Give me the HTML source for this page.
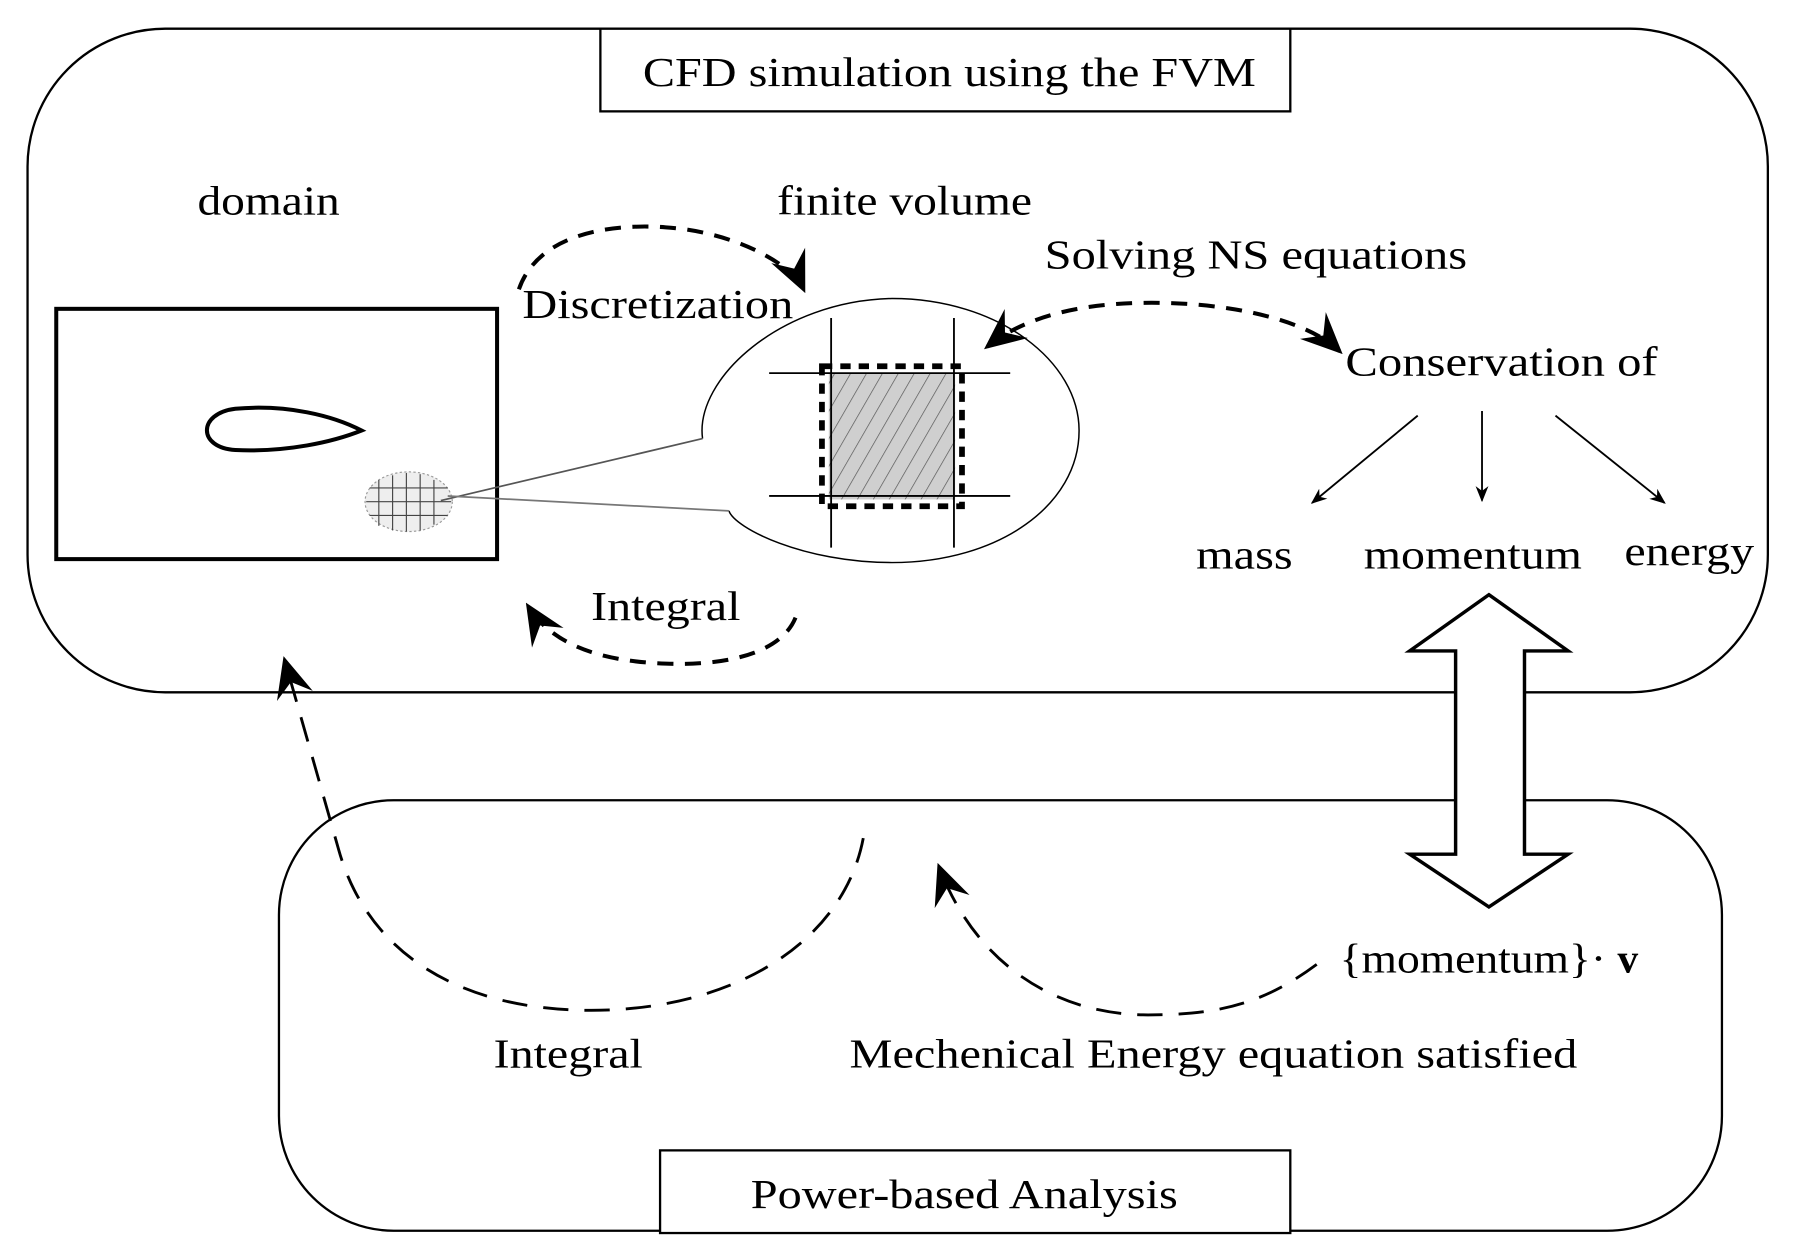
<!DOCTYPE html>
<html><head><style>html,body{margin:0;padding:0;background:#fff}svg{display:block}</style></head><body>
<svg width="1800" height="1256" viewBox="0 0 1568 1094" preserveAspectRatio="none" xmlns="http://www.w3.org/2000/svg" font-family="Liberation Serif, serif" font-size="36" fill="#000">
<defs>
<marker id="ah" viewBox="0 0 20 20" refX="18" refY="10" markerWidth="14" markerHeight="14" markerUnits="userSpaceOnUse" orient="auto"><path d="M0,2 L20,10 L0,18 L6,10Z" fill="#000"/></marker>
<marker id="ab" viewBox="0 0 20 20" refX="18" refY="10" markerWidth="36" markerHeight="36" markerUnits="userSpaceOnUse" orient="auto"><path d="M0,1 L20,10 L0,19 L7,10Z" fill="#000"/></marker>
<marker id="abs" viewBox="0 0 20 20" refX="2" refY="10" markerWidth="36" markerHeight="36" markerUnits="userSpaceOnUse" orient="auto"><path d="M20,1 L0,10 L20,19 L13,10Z" fill="#000"/></marker>
<pattern id="hatch" width="12" height="12" patternUnits="userSpaceOnUse" patternTransform="rotate(30)"><rect width="12" height="12" fill="#cfcfcf"/><line x1="0" y1="0" x2="0" y2="12" stroke="#555" stroke-width="1.2"/></pattern>
</defs>
<rect x="24" y="25" width="1516" height="578" rx="120" ry="120" fill="none" stroke="#000" stroke-width="2"/>
<rect x="523" y="25" width="601" height="72" fill="#fff" stroke="#000" stroke-width="2"/>
<text x="560" y="75" textLength="534" lengthAdjust="spacingAndGlyphs">CFD simulation using the FVM</text>
<text x="172" y="187" textLength="124" lengthAdjust="spacingAndGlyphs">domain</text>
<text x="677" y="187" textLength="222" lengthAdjust="spacingAndGlyphs">finite volume</text>
<text x="910" y="234" textLength="368" lengthAdjust="spacingAndGlyphs">Solving NS equations</text>
<text x="455" y="277" textLength="236" lengthAdjust="spacingAndGlyphs">Discretization</text>
<rect x="49" y="269" width="384" height="218" fill="none" stroke="#000" stroke-width="3.5"/>
<path d="M315,375 C290,362 250,352 205,356 C172,360 172,390 205,392 C250,394 290,385 315,375Z" fill="none" stroke="#000" stroke-width="3.5"/>
<ellipse cx="356" cy="437" rx="38" ry="26" fill="#eee" stroke="#999" stroke-width="1" stroke-dasharray="2,2"/>
<g stroke="#444" stroke-width="1">
<line x1="330" y1="418" x2="330" y2="458"/><line x1="342" y1="414" x2="342" y2="462"/><line x1="354" y1="412" x2="354" y2="463"/><line x1="366" y1="413" x2="366" y2="462"/><line x1="378" y1="418" x2="378" y2="457"/>
<line x1="322" y1="425" x2="390" y2="425"/><line x1="319" y1="437" x2="393" y2="437"/><line x1="322" y1="449" x2="390" y2="449"/>
</g>
<path d="M612,382 C605,330 680,262 777,260 C870,260 940,315 940,375 C940,440 870,490 777,490 C700,490 640,460 635,445" fill="none" stroke="#000" stroke-width="1.3"/>
<line x1="612" y1="382" x2="384" y2="436" stroke="#555" stroke-width="1.5"/>
<line x1="635" y1="445" x2="390" y2="432" stroke="#777" stroke-width="1.5"/>
<rect x="722" y="325" width="110" height="110" fill="url(#hatch)"/>
<rect x="716" y="319" width="122" height="122" fill="none" stroke="#000" stroke-width="5" stroke-dasharray="9,7"/>
<g stroke="#000" stroke-width="1.6">
<line x1="724" y1="277" x2="724" y2="477"/><line x1="831" y1="277" x2="831" y2="477"/>
<line x1="670" y1="325" x2="880" y2="325"/><line x1="670" y1="432" x2="880" y2="432"/>
</g>
<path d="M452,252 C470,200 540,195 580,198 C640,202 690,230 700,252" fill="none" stroke="#000" stroke-width="3.5" stroke-dasharray="14,10" marker-end="url(#ab)"/>
<path d="M860,302 C900,270 960,262 1020,264 C1080,266 1140,280 1167,306" fill="none" stroke="#000" stroke-width="3.5" stroke-dasharray="14,10" marker-start="url(#abs)" marker-end="url(#ab)"/>
<path d="M693,538 C680,570 630,580 580,578 C520,576 480,560 460,528" fill="none" stroke="#000" stroke-width="3.5" stroke-dasharray="14,10" marker-end="url(#ab)"/>
<text x="1172" y="327" textLength="272" lengthAdjust="spacingAndGlyphs">Conservation of</text>
<g stroke="#000" stroke-width="1.6">
<line x1="1235" y1="362" x2="1143" y2="438" marker-end="url(#ah)"/>
<line x1="1291" y1="358" x2="1291" y2="436" marker-end="url(#ah)"/>
<line x1="1355" y1="362" x2="1450" y2="438" marker-end="url(#ah)"/>
</g>
<text x="1042" y="495" textLength="84" lengthAdjust="spacingAndGlyphs">mass</text>
<text x="1188" y="495" textLength="190" lengthAdjust="spacingAndGlyphs">momentum</text>
<text x="1415" y="492" textLength="113" lengthAdjust="spacingAndGlyphs">energy</text>
<text x="515" y="540" textLength="130" lengthAdjust="spacingAndGlyphs">Integral</text>
<rect x="243" y="697" width="1257" height="375" rx="100" ry="100" fill="none" stroke="#000" stroke-width="2"/>
<rect x="575" y="1002" width="549" height="72" fill="#fff" stroke="#000" stroke-width="2"/>
<text x="654" y="1052" textLength="372" lengthAdjust="spacingAndGlyphs">Power-based Analysis</text>
<path d="M1297,518 L1366,567 L1328,567 L1328,744 L1366,744 L1297,790 L1228,744 L1268,744 L1268,567 L1228,567Z" fill="#fff" stroke="#000" stroke-width="3"/>
<path d="M752,730 C735,820 640,880 515,880 C400,880 320,830 295,740 L248,575" fill="none" stroke="#000" stroke-width="2.5" stroke-dasharray="22,14" marker-end="url(#ab)"/>
<path d="M1147,840 C1100,875 1060,884 1000,884 C920,884 850,840 818,755" fill="none" stroke="#000" stroke-width="2.5" stroke-dasharray="22,14" marker-end="url(#ab)"/>
<text x="1167" y="847" textLength="232" lengthAdjust="spacingAndGlyphs">{momentum}·</text><text x="1409" y="847" font-weight="bold">v</text>
<text x="430" y="930" textLength="130" lengthAdjust="spacingAndGlyphs">Integral</text>
<text x="740" y="930" textLength="634" lengthAdjust="spacingAndGlyphs">Mechenical Energy equation satisfied</text>
</svg>
</body></html>
